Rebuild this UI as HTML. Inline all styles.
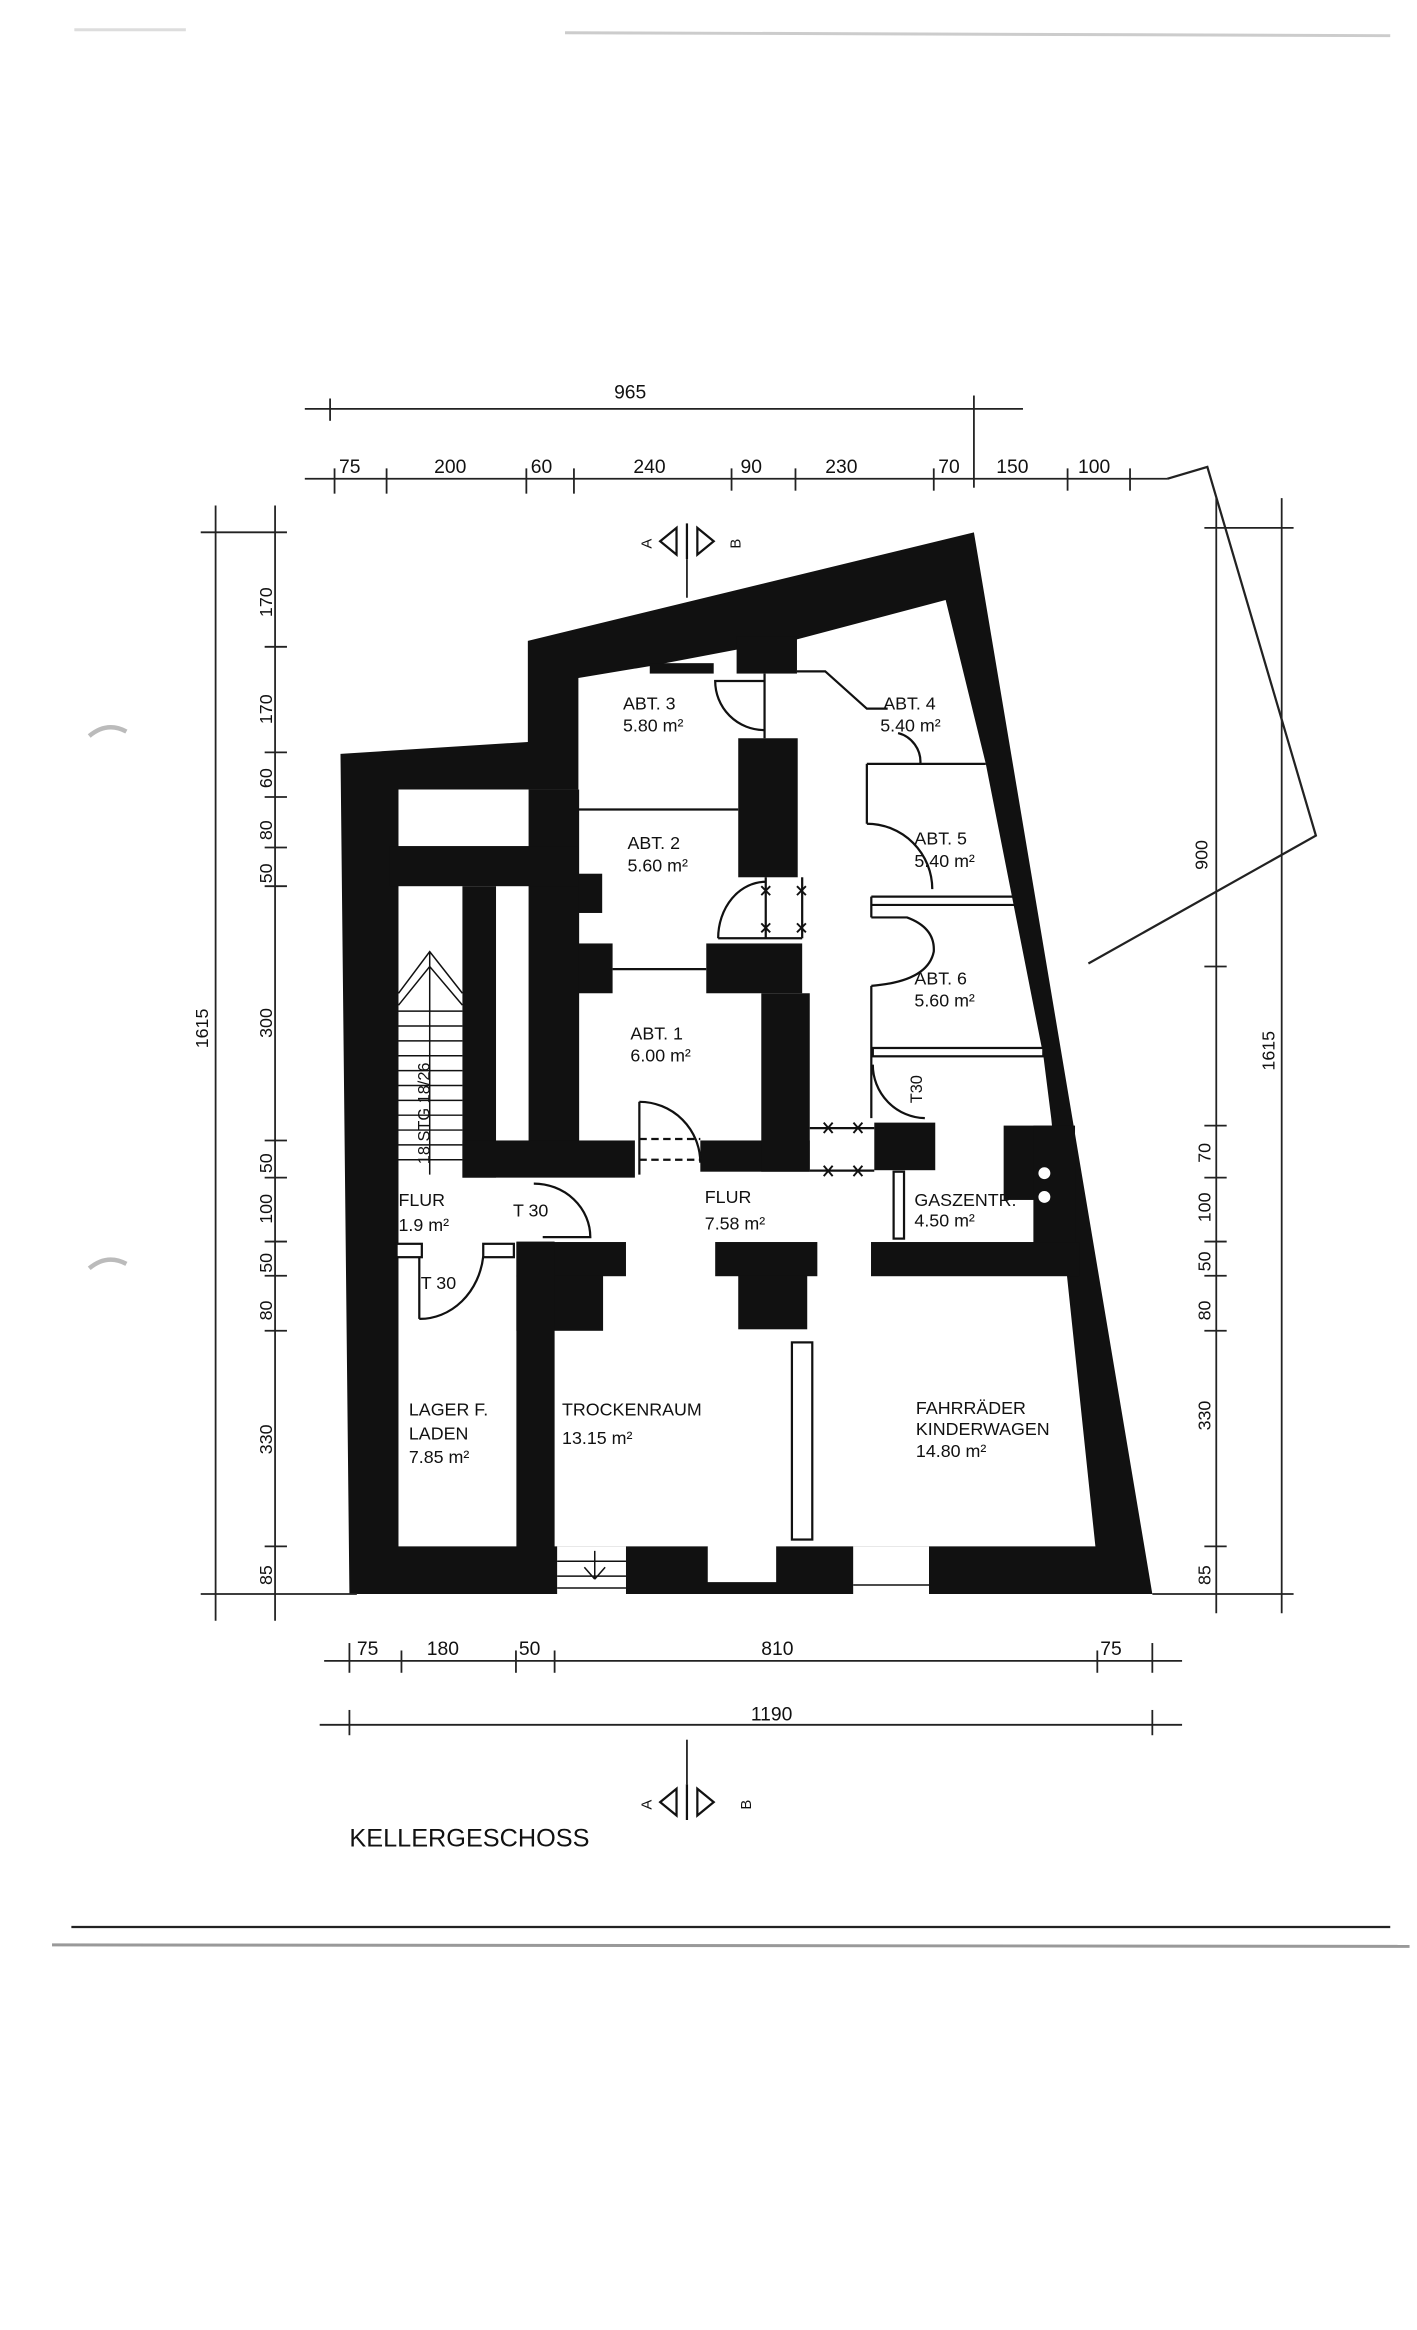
<!DOCTYPE html>
<html><head><meta charset="utf-8"><style>
html,body{margin:0;padding:0;background:#fff}
svg{display:block}
text{font-family:"Liberation Sans",sans-serif;fill:#111}
</style></head><body>
<svg width="1417" height="2330" viewBox="0 0 953 1567" preserveAspectRatio="none" xmlns="http://www.w3.org/2000/svg">
<rect width="953" height="1567" fill="#fff"/>
<line x1="380" y1="22" x2="935" y2="24" stroke="#ccc" stroke-width="2"/>
<line x1="50" y1="20" x2="125" y2="20" stroke="#ddd" stroke-width="2"/>
<polyline points="785,322 812,314 885,562 732,648" fill="none" stroke="#222" stroke-width="1.5"/>
<polygon points="229,507 355,499 355,431 655,358 775,1072 235,1072" fill="#111"/>
<polygon points="268,531 389,531 389,456 437,448 495,437 536,430 636,403.5 663,513.7 701.7,710 707,752 717.8,860 736.7,1040 268,1040" fill="#fff"/>
<g fill="#111">
<rect x="355.5" y="531" width="34" height="259"/>
<rect x="262" y="569" width="127" height="27"/>
<rect x="437" y="446" width="43" height="7"/>
<rect x="495.4" y="428" width="40.6" height="25"/>
<rect x="311" y="596" width="22.6" height="196"/>
<rect x="311" y="767" width="116" height="25"/>
<rect x="471" y="767" width="73.6" height="21"/>
<rect x="512" y="668" width="32.6" height="120"/>
<rect x="475" y="634.5" width="64.5" height="33.5"/>
<rect x="496.5" y="496.5" width="40" height="93.5"/>
<rect x="389" y="587.6" width="16" height="26.4"/>
<rect x="389" y="634.5" width="23" height="33.5"/>
<rect x="588" y="755" width="41" height="32"/>
<rect x="675" y="757" width="45" height="50"/>
<rect x="695" y="757" width="28" height="80"/>
<rect x="347.3" y="835.3" width="73.7" height="23"/>
<rect x="347.3" y="858" width="58.3" height="37"/>
<rect x="347.3" y="835" width="25.7" height="206"/>
<rect x="481" y="835.3" width="68.7" height="23"/>
<rect x="496.5" y="858" width="46.4" height="36"/>
<rect x="585.8" y="835.3" width="140" height="23"/>
</g>
<circle cx="702.4" cy="789" r="4" fill="#fff"/><circle cx="702.4" cy="805" r="4" fill="#fff"/>
<g stroke="#111" stroke-width="1.5" fill="none">
<line x1="389" y1="544.4" x2="496.5" y2="544.4"/>
<line x1="412" y1="651.8" x2="475" y2="651.8"/>
<path d="M514,458 L481,458 A33,33 0 0 0 514,491"/>
<line x1="514.2" y1="453" x2="514.2" y2="496.5"/>
<polyline points="536,451.5 555,451.5 583,476.6 597,476.6"/>
<path d="M604,493 A20,20 0 0 1 619,513.7"/>
<line x1="583" y1="513.7" x2="663" y2="513.7"/>
<line x1="583" y1="513.7" x2="583" y2="554"/>
<path d="M583,554 A44,44 0 0 1 627,598"/>
<line x1="586" y1="603" x2="684" y2="603"/>
<line x1="586" y1="608.6" x2="685" y2="608.6"/>
<line x1="586" y1="603" x2="586" y2="617"/>
<path d="M586,617 L610,617 Q629,624 628,640 Q624,660 586,663"/>
<line x1="586" y1="663" x2="586" y2="752"/>
<path d="M587,716 A36,36 0 0 0 622,752"/>
<path d="M483,631 A32,38 0 0 1 515,593"/>
<line x1="483" y1="631" x2="539.5" y2="631"/>
<line x1="515" y1="590" x2="515" y2="631"/>
<line x1="539.5" y1="590" x2="539.5" y2="631"/>
<line x1="430" y1="741" x2="430" y2="790"/>
<path d="M430,741 A41,41 0 0 1 471,782"/>
<line x1="430" y1="766" x2="471" y2="766" stroke-dasharray="5,3"/>
<line x1="430" y1="780" x2="471" y2="780" stroke-dasharray="5,3"/>
<line x1="544.6" y1="758.7" x2="588" y2="758.7"/>
<line x1="544.6" y1="787.3" x2="588" y2="787.3"/>
<path d="M359,796 A38,36 0 0 1 397,832 L365,832"/>
<line x1="282" y1="845" x2="282" y2="887"/>
<path d="M282,887 A43,48 0 0 0 325,845"/>
</g>
<g stroke="#111" stroke-width="1.3">
<line x1="512" y1="596" x2="518" y2="602"/><line x1="518" y1="596" x2="512" y2="602"/>
<line x1="512" y1="621" x2="518" y2="627"/><line x1="518" y1="621" x2="512" y2="627"/>
<line x1="536" y1="596" x2="542" y2="602"/><line x1="542" y1="596" x2="536" y2="602"/>
<line x1="536" y1="621" x2="542" y2="627"/><line x1="542" y1="621" x2="536" y2="627"/>
<line x1="554" y1="755" x2="560" y2="762"/><line x1="560" y1="755" x2="554" y2="762"/>
<line x1="574" y1="755" x2="580" y2="762"/><line x1="580" y1="755" x2="574" y2="762"/>
<line x1="554" y1="784" x2="560" y2="791"/><line x1="560" y1="784" x2="554" y2="791"/>
<line x1="574" y1="784" x2="580" y2="791"/><line x1="580" y1="784" x2="574" y2="791"/>
</g>
<g stroke="#111" stroke-width="1">
<line x1="268" y1="680" x2="311" y2="680"/><line x1="268" y1="690" x2="311" y2="690"/><line x1="268" y1="700" x2="311" y2="700"/><line x1="268" y1="710" x2="311" y2="710"/><line x1="268" y1="720" x2="311" y2="720"/><line x1="268" y1="730" x2="311" y2="730"/><line x1="268" y1="740" x2="311" y2="740"/><line x1="268" y1="750" x2="311" y2="750"/><line x1="268" y1="760" x2="311" y2="760"/><line x1="268" y1="770" x2="311" y2="770"/><line x1="268" y1="780" x2="311" y2="780"/>
<polyline points="268,668 289,640 311,668" fill="none"/>
<polyline points="268,676 289,650 311,676" fill="none"/>
<line x1="289" y1="640" x2="289" y2="790"/>
</g>
<g fill="#fff" stroke="#111" stroke-width="1.5">
<rect x="587" y="704.8" width="114.7" height="5.6"/>
<rect x="601" y="788" width="7" height="45"/>
<rect x="532.6" y="902.8" width="13.7" height="132.6"/>
<rect x="266.7" y="836.5" width="17" height="9"/>
<rect x="325" y="836.5" width="20.6" height="9"/>
</g>
<rect x="374.7" y="1040" width="46.3" height="33" fill="#fff"/>
<g stroke="#111" stroke-width="1"><line x1="374.7" y1="1050" x2="421" y2="1050"/><line x1="374.7" y1="1060" x2="421" y2="1060"/><line x1="374.7" y1="1068" x2="421" y2="1068"/><line x1="400" y1="1043" x2="400" y2="1062"/><line x1="393" y1="1054" x2="400" y2="1062"/><line x1="407" y1="1054" x2="400" y2="1062"/></g>
<rect x="573.8" y="1040" width="51" height="33" fill="#fff"/>
<line x1="573.8" y1="1066" x2="624.8" y2="1066" stroke="#111"/>
<path d="M476,1040 L476,1064 L522,1064 L522,1040 Q499,1026 476,1040Z" fill="#fff"/>
<g font-size="12">
<text x="419" y="477">ABT. 3</text><text x="419" y="492">5.80 m²</text>
<text x="594" y="477">ABT. 4</text><text x="592" y="492">5.40 m²</text>
<text x="422" y="571">ABT. 2</text><text x="422" y="586">5.60 m²</text>
<text x="615" y="568">ABT. 5</text><text x="615" y="583">5.40 m²</text>
<text x="615" y="662">ABT. 6</text><text x="615" y="677">5.60 m²</text>
<text x="424" y="699">ABT. 1</text><text x="424" y="714">6.00 m²</text>
<text x="268" y="811">FLUR</text><text x="268" y="828">1.9 m²</text>
<text x="345" y="818">T 30</text>
<text x="283" y="867">T 30</text>
<text x="474" y="809">FLUR</text><text x="474" y="827">7.58 m²</text>
<text x="615" y="811">GASZENTR.</text><text x="615" y="825">4.50 m²</text>
<text x="275" y="952">LAGER F.</text><text x="275" y="968">LADEN</text><text x="275" y="984">7.85 m²</text>
<text x="378" y="952">TROCKENRAUM</text><text x="378" y="971">13.15 m²</text>
<text x="616" y="951">FAHRRÄDER</text><text x="616" y="965">KINDERWAGEN</text><text x="616" y="980">14.80 m²</text>
<text transform="translate(289,783) rotate(-90)" font-size="11">18 STG 18/26</text>
<text transform="translate(620,742) rotate(-90)" font-size="11">T30</text>
</g>
<g stroke="#222" stroke-width="1.2">
<line x1="205" y1="275" x2="688" y2="275"/>
<line x1="222" y1="268" x2="222" y2="283"/><line x1="655" y1="266" x2="655" y2="328"/>
<line x1="205" y1="322" x2="785" y2="322"/>
<line x1="225" y1="315" x2="225" y2="332"/><line x1="260" y1="315" x2="260" y2="332"/><line x1="354" y1="315" x2="354" y2="332"/><line x1="386" y1="315" x2="386" y2="332"/><line x1="492" y1="315" x2="492" y2="330"/><line x1="535" y1="315" x2="535" y2="330"/><line x1="628" y1="315" x2="628" y2="330"/><line x1="718" y1="315" x2="718" y2="330"/><line x1="760" y1="315" x2="760" y2="330"/>
<line x1="145" y1="340" x2="145" y2="1090"/><line x1="185" y1="340" x2="185" y2="1090"/>
<line x1="135" y1="358" x2="193" y2="358"/><line x1="135" y1="1072" x2="240" y2="1072"/>
<line x1="178" y1="435" x2="193" y2="435"/><line x1="178" y1="506" x2="193" y2="506"/><line x1="178" y1="536" x2="193" y2="536"/><line x1="178" y1="570" x2="193" y2="570"/><line x1="178" y1="596" x2="193" y2="596"/><line x1="178" y1="767" x2="193" y2="767"/><line x1="178" y1="792" x2="193" y2="792"/><line x1="178" y1="835" x2="193" y2="835"/><line x1="178" y1="858" x2="193" y2="858"/><line x1="178" y1="895" x2="193" y2="895"/><line x1="178" y1="1040" x2="193" y2="1040"/>
<line x1="818" y1="335" x2="818" y2="1085"/><line x1="862" y1="335" x2="862" y2="1085"/>
<line x1="810" y1="355" x2="870" y2="355"/><line x1="775" y1="1072" x2="870" y2="1072"/>
<line x1="810" y1="650" x2="825" y2="650"/><line x1="810" y1="757" x2="825" y2="757"/><line x1="810" y1="792" x2="825" y2="792"/><line x1="810" y1="835" x2="825" y2="835"/><line x1="810" y1="858" x2="825" y2="858"/><line x1="810" y1="895" x2="825" y2="895"/><line x1="810" y1="1040" x2="825" y2="1040"/>
<line x1="218" y1="1117" x2="795" y2="1117"/>
<line x1="235" y1="1105" x2="235" y2="1125"/><line x1="270" y1="1110" x2="270" y2="1125"/><line x1="347" y1="1110" x2="347" y2="1125"/><line x1="373" y1="1110" x2="373" y2="1125"/><line x1="738" y1="1110" x2="738" y2="1125"/><line x1="775" y1="1105" x2="775" y2="1125"/>
<line x1="215" y1="1160" x2="795" y2="1160"/>
<line x1="235" y1="1150" x2="235" y2="1167"/><line x1="775" y1="1150" x2="775" y2="1167"/>
<line x1="462" y1="376" x2="462" y2="402"/>
<line x1="462" y1="1170" x2="462" y2="1200"/>
<line x1="48" y1="1296" x2="935" y2="1296" stroke-width="1.5"/>
<line x1="35" y1="1308" x2="948" y2="1309" stroke="#999" stroke-width="2"/>
</g>
<g font-size="13">
<text x="413" y="268">965</text>
<text x="228" y="318">75</text><text x="292" y="318">200</text><text x="357" y="318">60</text><text x="426" y="318">240</text><text x="498" y="318">90</text><text x="555" y="318">230</text><text x="631" y="318">70</text><text x="670" y="318">150</text><text x="725" y="318">100</text>
<text x="240" y="1113">75</text><text x="287" y="1113">180</text><text x="349" y="1113">50</text><text x="512" y="1113">810</text><text x="740" y="1113">75</text>
<text x="505" y="1157">1190</text>
<text x="235" y="1242" font-size="17">KELLERGESCHOSS</text>
</g>
<g font-size="12">
<text transform="translate(140,705) rotate(-90)">1615</text>
<text transform="translate(183,415) rotate(-90)">170</text>
<text transform="translate(183,487) rotate(-90)">170</text>
<text transform="translate(183,530) rotate(-90)">60</text>
<text transform="translate(183,565) rotate(-90)">80</text>
<text transform="translate(183,594) rotate(-90)">50</text>
<text transform="translate(183,698) rotate(-90)">300</text>
<text transform="translate(183,789) rotate(-90)">50</text>
<text transform="translate(183,823) rotate(-90)">100</text>
<text transform="translate(183,856) rotate(-90)">50</text>
<text transform="translate(183,888) rotate(-90)">80</text>
<text transform="translate(183,978) rotate(-90)">330</text>
<text transform="translate(183,1066) rotate(-90)">85</text>
<text transform="translate(812,585) rotate(-90)">900</text>
<text transform="translate(857,720) rotate(-90)">1615</text>
<text transform="translate(814,782) rotate(-90)">70</text>
<text transform="translate(814,822) rotate(-90)">100</text>
<text transform="translate(814,855) rotate(-90)">50</text>
<text transform="translate(814,888) rotate(-90)">80</text>
<text transform="translate(814,962) rotate(-90)">330</text>
<text transform="translate(814,1066) rotate(-90)">85</text>
</g>
<g stroke="#111" stroke-width="1.5" fill="#fff">
<polygon points="444,364 455,355 455,373"/><polygon points="480,364 469,355 469,373"/>
<line x1="462" y1="352" x2="462" y2="376"/>
<polygon points="444,1212 455,1203 455,1221"/><polygon points="480,1212 469,1203 469,1221"/>
<line x1="462" y1="1200" x2="462" y2="1224"/>
</g>
<text font-size="10" transform="translate(438,369) rotate(-90)">A</text>
<text font-size="10" transform="translate(498,369) rotate(-90)">B</text>
<text font-size="10" transform="translate(438,1217) rotate(-90)">A</text>
<text font-size="10" transform="translate(505,1217) rotate(-90)">B</text>
<path d="M60,495 Q72,485 85,492" stroke="#bbb" stroke-width="3" fill="none"/>
<path d="M60,853 Q72,843 85,850" stroke="#bbb" stroke-width="3" fill="none"/>
</svg>
</body></html>
